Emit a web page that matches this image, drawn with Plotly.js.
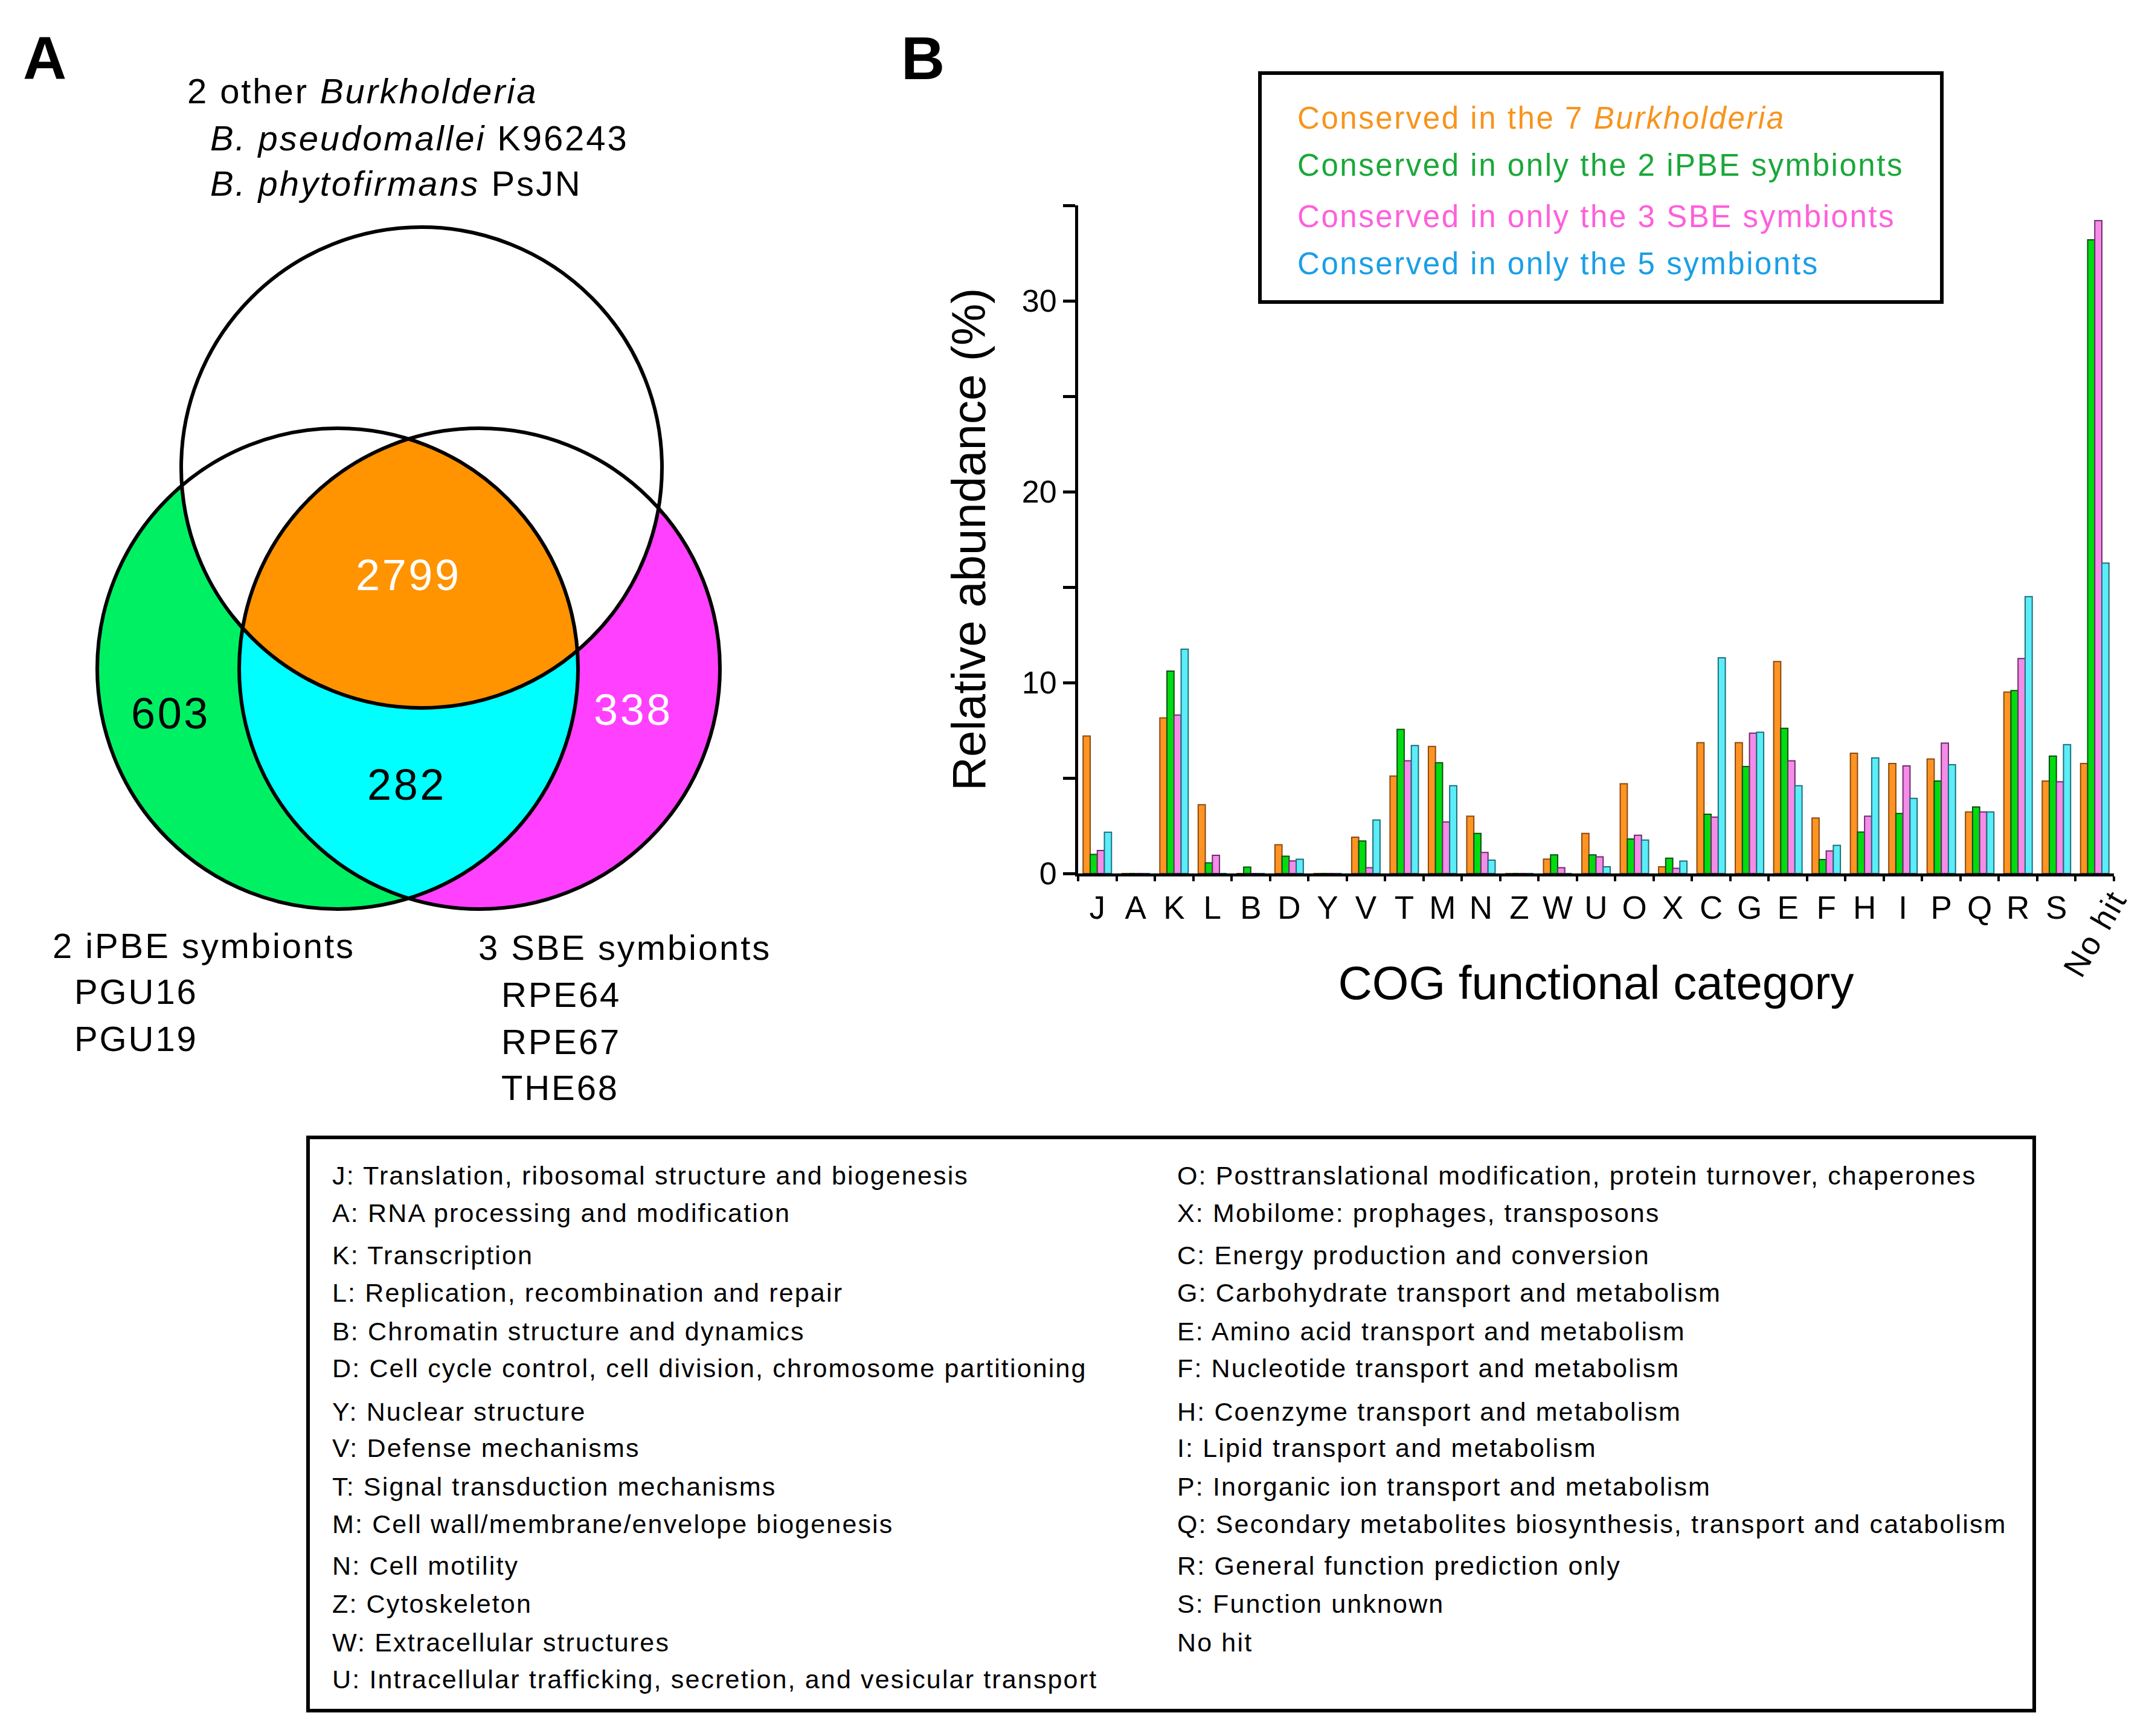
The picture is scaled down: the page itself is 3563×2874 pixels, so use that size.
<!DOCTYPE html>
<html>
<head>
<meta charset="utf-8">
<script src="https://cdn.plot.ly/plotly-3.0.1.min.js"></script>
<style>
  html, body { margin: 0; padding: 0; background: #fff; overflow: hidden; }
  #chart { width: 3563px; height: 2874px; }
  .annotation-text { letter-spacing: 0.05em; }
</style>
</head>
<body>
<div id="chart"></div>
<script>
// ---------------- DATA ----------------
const categories = ['J','A','K','L','B','D','Y','V','T','M','N','Z','W','U','O','X','C','G','E','F','H','I','P','Q','R','S','No hit'];
const conservedAll7 = [7.2,0,8.15,3.6,0,1.5,0,1.9,5.1,6.65,3.0,0,0.75,2.1,4.7,0.35,6.85,6.85,11.1,2.9,6.3,5.76,6.0,3.22,9.5,4.84,5.76];
const conservedIPBE = [1.0,0,10.6,0.55,0.33,0.9,0,1.7,7.55,5.8,2.1,0,0.97,0.97,1.8,0.8,3.1,5.6,7.6,0.73,2.17,3.14,4.84,3.48,9.58,6.15,33.2];
const conservedSBE  = [1.2,0,8.3,0.95,0,0.66,0,0.3,5.9,2.7,1.1,0,0.3,0.87,2.0,0.27,2.95,7.35,5.9,1.18,3.0,5.63,6.83,3.22,11.26,4.8,34.2];
const conserved5    = [2.16,0,11.75,0,0,0.74,0,2.8,6.7,4.6,0.7,0,0,0.35,1.75,0.65,11.3,7.4,4.6,1.47,6.05,3.93,5.7,3.22,14.5,6.75,16.26];
const seriesNames = [
  'Conserved in the 7 <i>Burkholderia</i>',
  'Conserved in only the 2 iPBE symbionts',
  'Conserved in only the 3 SBE symbionts',
  'Conserved in only the 5 symbionts'
];
const categoryDescriptions = [
  'Translation, ribosomal structure and biogenesis',
  'RNA processing and modification',
  'Transcription',
  'Replication, recombination and repair',
  'Chromatin structure and dynamics',
  'Cell cycle control, cell division, chromosome partitioning',
  'Nuclear structure',
  'Defense mechanisms',
  'Signal transduction mechanisms',
  'Cell wall/membrane/envelope biogenesis',
  'Cell motility',
  'Cytoskeleton',
  'Extracellular structures',
  'Intracellular trafficking, secretion, and vesicular transport',
  'Posttranslational modification, protein turnover, chaperones',
  'Mobilome: prophages, transposons',
  'Energy production and conversion',
  'Carbohydrate transport and metabolism',
  'Amino acid transport and metabolism',
  'Nucleotide transport and metabolism',
  'Coenzyme transport and metabolism',
  'Lipid transport and metabolism',
  'Inorganic ion transport and metabolism',
  'Secondary metabolites biosynthesis, transport and catabolism',
  'General function prediction only',
  'Function unknown',
  ''
];
// Venn diagram counts
const vennCounts = { iPBEonly: 603, allConserved: 2799, SBEonly: 338, symbiontsOnly: 282 };
const vennSetLabels = {
  top: ['2 other <i>Burkholderia</i>', '<i>B. pseudomallei</i> K96243', '<i>B. phytofirmans</i> PsJN'],
  left: ['2 iPBE symbionts', 'PGU16', 'PGU19'],
  right: ['3 SBE symbionts', 'RPE64', 'RPE67', 'THE68']
};

// ---------------- STYLE / LAYOUT CONSTANTS ----------------
const W = 3563, H = 2874;
const FONT = 'Liberation Sans, Arial, Helvetica, sans-serif';
const px = x => x / W;
const py = y => 1 - y / H;

const barColors = ['#FF9422', '#00DC10', '#F58CE8', '#5CEEF8'];
const barLines  = ['#8A4A12', '#0E4E12', '#6E2C6E', '#1F6F7C'];
const legendTextColors = ['#F7941D', '#1AA83A', '#FF5FDB', '#1A9FE6'];

// ---------------- BARS ----------------
const seriesValues = [conservedAll7, conservedIPBE, conservedSBE, conserved5];
const traces = seriesValues.map((vals, i) => ({
  type: 'bar',
  name: seriesNames[i],
  x: categories,
  y: vals,
  marker: { color: barColors[i], line: { color: barLines[i], width: 2 } },
  showlegend: false,
  hoverinfo: 'x+y'
}));

// ---------------- VENN GEOMETRY (layout) ----------------
const R = 398;
const cTop = [698, 774], cLeft = [559, 1107], cRight = [794, 1107];
function circlePoly(c, r, n) {
  const pts = [];
  for (let k = 0; k < n; k++) {
    const t = 2 * Math.PI * k / n;
    pts.push([c[0] + r * Math.cos(t), c[1] + r * Math.sin(t)]);
  }
  return pts;
}
function clip(subject, clipper) {
  let output = subject;
  const cross = (a, b, p) => (b[0]-a[0])*(p[1]-a[1]) - (b[1]-a[1])*(p[0]-a[0]);
  const inter = (a, b, p, q) => {
    const a1 = cross(a, b, p), a2 = cross(a, b, q);
    const t = a1 / (a1 - a2);
    return [p[0] + t*(q[0]-p[0]), p[1] + t*(q[1]-p[1])];
  };
  for (let i = 0; i < clipper.length; i++) {
    const A = clipper[i], B = clipper[(i+1) % clipper.length];
    const input = output; output = [];
    if (!input.length) break;
    for (let j = 0; j < input.length; j++) {
      const P = input[j], Q = input[(j+1) % input.length];
      const pin = cross(A, B, P) >= 0, qin = cross(A, B, Q) >= 0;
      if (pin) {
        output.push(P);
        if (!qin) output.push(inter(A, B, P, Q));
      } else if (qin) {
        output.push(inter(A, B, P, Q));
      }
    }
  }
  return output;
}
const toPath = pts => 'M' + pts.map(p => px(p[0]).toFixed(6) + ',' + py(p[1]).toFixed(6)).join('L') + 'Z';
const N = 480;
const polyTop = circlePoly(cTop, R, N), polyLeft = circlePoly(cLeft, R, N), polyRight = circlePoly(cRight, R, N);
const lens = clip(polyLeft, polyRight);
const triple = clip(lens, polyTop);

const fillShape = (pts, color) => ({ type: 'path', xref: 'paper', yref: 'paper', path: toPath(pts), fillcolor: color, line: { width: 0 } });
const ringShape = (c) => ({ type: 'circle', xref: 'paper', yref: 'paper',
  x0: px(c[0]-R), x1: px(c[0]+R), y0: py(c[1]+R), y1: py(c[1]-R),
  fillcolor: 'rgba(0,0,0,0)', line: { color: '#000', width: 6 } });

const shapes = [
  fillShape(polyLeft, '#00F064'),
  fillShape(polyRight, '#FF40FF'),
  fillShape(lens, '#00FFFF'),
  fillShape(polyTop, '#FFFFFF'),
  fillShape(triple, '#FF9300'),
  ringShape(cTop), ringShape(cLeft), ringShape(cRight),
  // legend box
  { type: 'rect', xref: 'paper', yref: 'paper', x0: px(2086), x1: px(3215), y0: py(500), y1: py(121),
    line: { color: '#000', width: 6 }, fillcolor: 'rgba(0,0,0,0)' },
  // COG description box
  { type: 'rect', xref: 'paper', yref: 'paper', x0: px(510), x1: px(3368), y0: py(2832), y1: py(1883),
    line: { color: '#000', width: 6 }, fillcolor: 'rgba(0,0,0,0)' }
];

// ---------------- ANNOTATIONS ----------------
const ann = [];
const txt = (text, x, y, size, opts = {}) => ann.push(Object.assign({
  text, x: px(x), y: py(y), xref: 'paper', yref: 'paper', showarrow: false,
  xanchor: 'left', yanchor: 'middle', font: { family: FONT, size, color: '#000' }
}, opts));

// panel letters
txt('<b>A</b>', 76, 96, 100, { xanchor: 'center' });
txt('<b>B</b>', 1530, 96, 100, { xanchor: 'center' });

// Venn set labels
txt(vennSetLabels.top[0], 308, 150, 58);
txt(vennSetLabels.top[1], 346, 228, 58);
txt(vennSetLabels.top[2], 346, 304, 58);
const leftY = [1565, 1641, 1719];
vennSetLabels.left.forEach((t, i) => txt(t, i === 0 ? 85 : 121, leftY[i], 58));
const rightY = [1568, 1646, 1724, 1800];
vennSetLabels.right.forEach((t, i) => txt(t, i === 0 ? 790 : 828, rightY[i], 58));

// Venn counts
txt(String(vennCounts.allConserved), 676, 952, 72, { xanchor: 'center', font: { family: FONT, size: 72, color: '#FFFFFF' } });
txt(String(vennCounts.iPBEonly), 282, 1181, 72, { xanchor: 'center' });
txt(String(vennCounts.SBEonly), 1048, 1175, 72, { xanchor: 'center', font: { family: FONT, size: 72, color: '#FFFFFF' } });
txt(String(vennCounts.symbiontsOnly), 673, 1299, 72, { xanchor: 'center' });

// legend entries (coloured text in a box)
const legendY = [195, 273, 358, 437];
seriesNames.forEach((n, i) => txt(n, 2146, legendY[i], 51, { font: { family: FONT, size: 51, color: legendTextColors[i] } }));

// COG category descriptions (two columns)
const lineY = [1946, 2008, 2078, 2140, 2204, 2265, 2337, 2397, 2461, 2523, 2592, 2655, 2719, 2780];
categories.forEach((c, i) => {
  const col = i < 14 ? 0 : 1;
  const row = col === 0 ? i : i - 14;
  const label = categoryDescriptions[i] ? c + ': ' + categoryDescriptions[i] : c;
  txt(label, col === 0 ? 548 : 1947, lineY[row], 43);
});

// rotated "No hit" tick label placed on the category axis
ann.push({ text: 'No hit', x: 'No hit', xref: 'x', y: py(1545), yref: 'paper', showarrow: false,
  textangle: -60, xanchor: 'center', yanchor: 'middle', font: { family: FONT, size: 53, color: '#000' } });

// ---------------- LAYOUT ----------------
const yTickVals = [0, 5, 10, 15, 20, 25, 30, 35];
const yTickText = yTickVals.map(v => v % 10 === 0 ? String(v) : '');
const xTickText = categories.map(c => c === 'No hit' ? '' : c);

const layout = {
  width: W, height: H,
  margin: { l: 0, r: 0, t: 0, b: 0 },
  paper_bgcolor: '#fff', plot_bgcolor: 'rgba(0,0,0,0)',
  font: { family: FONT, color: '#000' },
  barmode: 'group', bargap: 0.26, bargroupgap: 0,
  showlegend: false,
  xaxis: {
    domain: [px(1785), px(3500)], anchor: 'y',
    type: 'category', categoryorder: 'array', categoryarray: categories,
    range: [-0.5, 26.5], fixedrange: true,
    showline: true, linewidth: 5, linecolor: '#000', mirror: false,
    ticks: 'outside', tickson: 'boundaries', ticklen: 8, tickwidth: 4, tickcolor: '#000',
    tickmode: 'array', tickvals: categories, ticktext: xTickText,
    tickfont: { family: FONT, size: 53, color: '#000' },
    ticklabelstandoff: 6,
    showgrid: false, zeroline: false,
    title: { text: 'COG functional category', font: { family: FONT, size: 78, color: '#000' }, standoff: 70 }
  },
  yaxis: {
    domain: [py(1446), py(340)], anchor: 'x',
    range: [0, 35], fixedrange: true,
    showline: true, linewidth: 5, linecolor: '#000',
    ticks: 'outside', ticklen: 20, tickwidth: 5, tickcolor: '#000',
    tickmode: 'array', tickvals: yTickVals, ticktext: yTickText,
    tickfont: { family: FONT, size: 52, color: '#000' },
    showgrid: false, zeroline: false,
    title: { text: 'Relative abundance (%)', font: { family: FONT, size: 78, color: '#000' }, standoff: 36 }
  },
  shapes: shapes,
  annotations: ann
};

Plotly.newPlot('chart', traces, layout, { displayModeBar: false, staticPlot: true });
</script>
</body>
</html>
